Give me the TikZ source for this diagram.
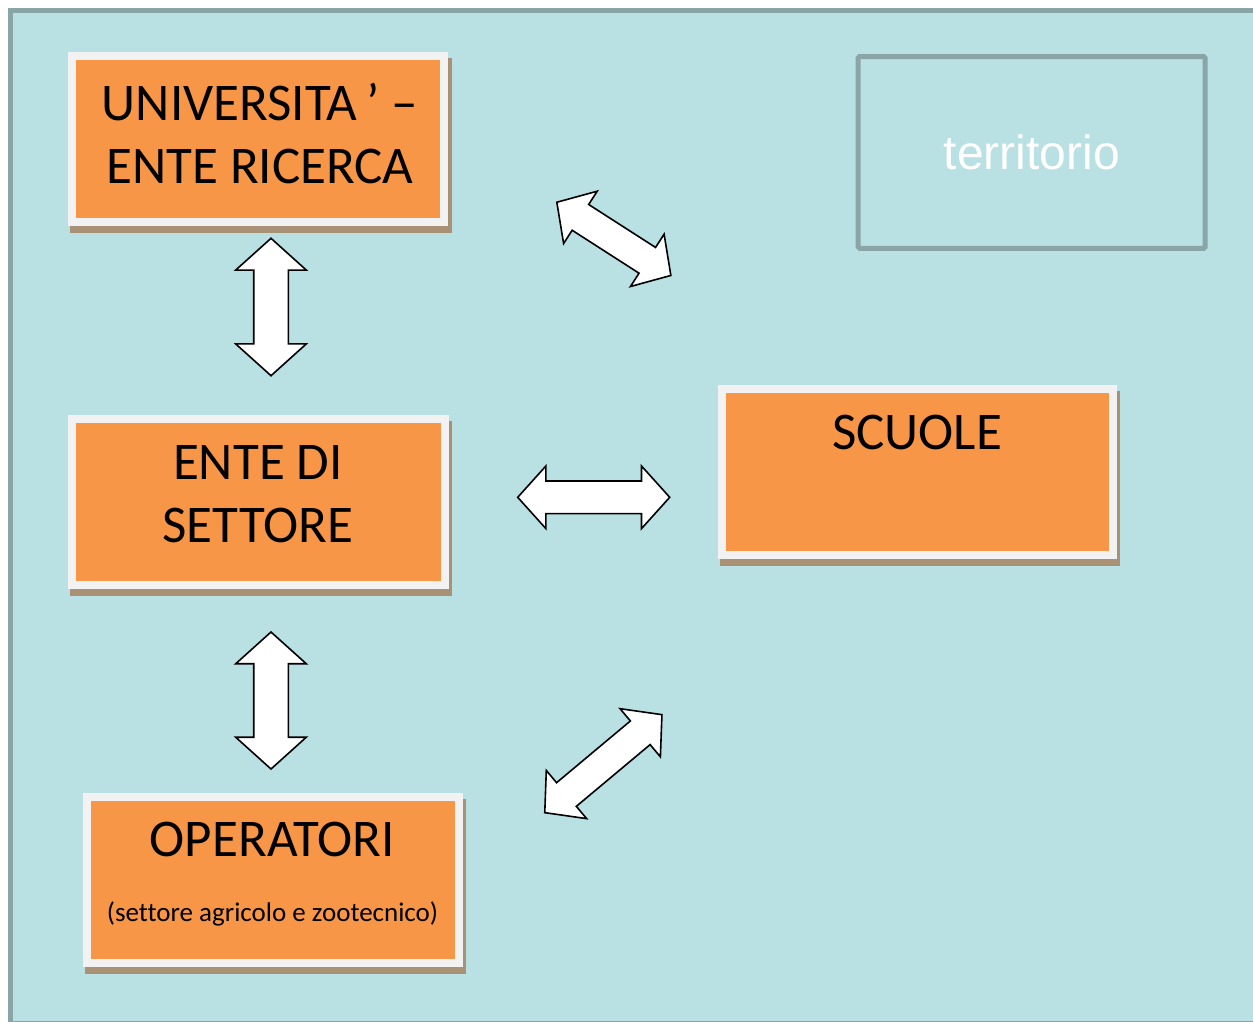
\documentclass[tikz,border=0pt]{standalone}
\usepackage{fontspec}
\setmainfont{Carlito}[Ligatures=NoCommon]
\newfontfamily\arialf{Liberation Sans}
\usetikzlibrary{shapes.arrows,calc}
\pgfdeclarelayer{bglayer}
\pgfdeclarelayer{shadowlayer}
\pgfsetlayers{bglayer,shadowlayer,main}
\definecolor{pagebg}{HTML}{B9E0E3}
\definecolor{framegray}{HTML}{8AA5A7}
\definecolor{boxorange}{HTML}{F79646}
\definecolor{boxrim}{HTML}{F2F2F2}
\definecolor{shadowtan}{HTML}{A89175}
\tikzset{
  orangebox/.style={rectangle, fill=boxorange, draw=boxrim, line width=8pt, inner sep=0pt, outer sep=4pt},
  bigtext/.style={font=\fontsize{53}{63.5}\selectfont, align=center, inner sep=0pt, text=black},
  smalltext/.style={font=\fontsize{27}{32}\selectfont, inner sep=0pt, text=black},
  blockarr/.style={double arrow, draw=black, fill=white, line width=1.6pt, inner xsep=0pt,
    double arrow tip angle=96, double arrow head indent=0pt},
  terrbox/.style={rectangle, draw=framegray, line width=5pt, rounded corners=1.5pt, inner sep=0pt,
    text=white, font=\arialf\fontsize{48}{56}\selectfont},
}
% #1 from, #2 to, #3 head width, #4 shaft width, #5 name
\newcommand\blockarrow[5]{%
  \path let \p1=(#1), \p2=(#2), \n1={atan2(\y2-\y1,\x2-\x1)}, \n2={veclen(\x2-\x1,\y2-\y1)} in
    node[blockarr, rotate=\n1, minimum height={\n2-2}, minimum width=#3pt,
         inner ysep={#4/2}, double arrow head extend={(#3-#4)/2}] (#5) at ($(#1)!0.5!(#2)$) {};}
\begin{document}
\begin{tikzpicture}[x=1pt,y=-1pt]
\useasboundingbox (0,0) rectangle (1253,1022);
\begin{pgfonlayer}{bglayer}
  \begin{scope}
    \clip (0,0) rectangle (1253,1022);
    \fill[white] (0,0) rectangle (1253,1022);
    \draw[framegray, fill=pagebg, line width=5pt] (10.5,10.5) rectangle (1275,1023.5);
  \end{scope}
\end{pgfonlayer}

% boxes
\node[orangebox, minimum width=372pt, minimum height=166pt] (univ) at (258,139) {};
\node[bigtext, anchor=north] (univtxt) at (260,82.5) {UNIVERSITA\kern.17em’ –\\ENTE RICERCA};

\node[orangebox, minimum width=373pt, minimum height=166pt] (ente) at (258,502) {};
\node[bigtext, anchor=north] (entetxt) at (258,445) {ENTE DI\\SETTORE};

\node[orangebox, minimum width=391pt, minimum height=166pt] (scuole) at (917.2,472) {};
\node[bigtext, anchor=north] (scuoletxt) at (917,415) {SCUOLE};

\node[orangebox, minimum width=372pt, minimum height=166pt] (oper) at (272.8,880) {};
\node[bigtext, anchor=base] (opertxt) at (272.5,856) {OPERATORI};
\node[smalltext, anchor=base] (opersub) at (272.5,921) {(settore agricolo e zootecnico)};

\node[terrbox, minimum width=347pt, minimum height=191.7pt] (terr) at (1031.7,152.4) {territorio};

% shadows
\begin{pgfonlayer}{shadowlayer}
  \foreach \b in {univ,ente,scuole,oper}
    \fill[shadowtan] ([shift={(2,6)}]\b.north west) rectangle ([shift={(3.5,7)}]\b.south east);
\end{pgfonlayer}

% arrow end points
\coordinate (pa1) at (271,237.3);   \coordinate (pa2) at (271,376.7);
\coordinate (pb1) at (271,631);     \coordinate (pb2) at (271,770);
\coordinate (pc1) at (516.7,497.3); \coordinate (pc2) at (670.7,497.3);
\coordinate (pd1) at (556,201.7);   \coordinate (pd2) at (671.7,276);
\coordinate (pe1) at (544,813.3);   \coordinate (pe2) at (662.7,714);

\blockarrow{pa1}{pa2}{69}{33}{arrA}
\blockarrow{pb1}{pb2}{69}{33}{arrB}
\blockarrow{pc1}{pc2}{61}{31}{arrC}
\blockarrow{pd1}{pd2}{60.6}{29}{arrD}
\blockarrow{pe1}{pe2}{61.2}{29.2}{arrE}
\end{tikzpicture}
\end{document}
